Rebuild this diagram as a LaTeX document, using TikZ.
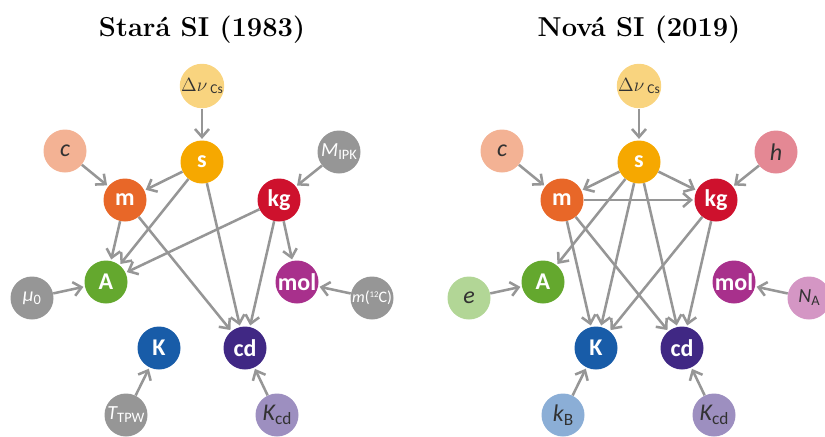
\documentclass[tikz,border=0pt]{standalone}
\usepackage{fontspec}
\usepackage{graphicx}
\setsansfont{Carlito}
\usetikzlibrary{arrows.meta}
\definecolor{cDnu}{RGB}{249,212,127}
\definecolor{cS}{RGB}{246,168,0}
\definecolor{cC}{RGB}{243,178,148}
\definecolor{cM}{RGB}{232,103,40}
\definecolor{cKg}{RGB}{206,17,45}
\definecolor{cGray}{RGB}{150,150,150}
\definecolor{cA}{RGB}{100,168,46}
\definecolor{cMol}{RGB}{168,48,140}
\definecolor{cK}{RGB}{24,92,168}
\definecolor{cCd}{RGB}{64,40,132}
\definecolor{cKcd}{RGB}{157,143,192}
\definecolor{cH}{RGB}{228,136,148}
\definecolor{cE}{RGB}{178,214,150}
\definecolor{cNA}{RGB}{212,150,196}
\definecolor{cKB}{RGB}{139,174,214}
\definecolor{cTxt}{RGB}{50,50,50}
\definecolor{cArr}{RGB}{150,150,150}
\newcommand{\lbsub}[1]{\raisebox{-0.3ex}{\scalebox{0.72}{#1}}}
\begin{document}
\begin{tikzpicture}[x=0.75pt,y=-0.75pt,
  ball/.style={circle, minimum size=32.25pt, inner sep=0pt, draw=none},
  unitn/.style={ball, text=white, font=\sffamily\bfseries\fontsize{18}{18}\selectfont},
  constn/.style={ball, text=cTxt, font=\sffamily\itshape\fontsize{18}{18}\selectfont},
  grayn/.style={ball, fill=cGray, text=white, font=\sffamily\itshape\fontsize{15}{15}\selectfont},
  title/.style={anchor=base, font=\bfseries\fontsize{20.5}{23}\selectfont},
  arr/.style={draw=cArr, line width=1.9pt, -{Straight Barb[length=6pt,width=10.5pt]}, shorten >=1pt}
]
\useasboundingbox (0,0) rectangle (825,436);

% ---------- Left: old SI ----------
\node[title] (Lt) at (202,36) {Stará SI (1983)};
\node[ball, fill=cDnu, text=cTxt, font=\sffamily\fontsize{14}{14}\selectfont] (Ldnu) at (202,86) {$\Delta\nu$\,\lbsub{\upshape Cs}};
\node[unitn, fill=cS] (Ls) at (202,162) {s};
\node[constn, fill=cC] (Lc) at (65,151) {c};
\node[grayn] (Lmipk) at (339,152) {M\lbsub{\upshape IPK}};
\node[unitn, fill=cM] (Lm) at (125,200) {m};
\node[unitn, fill=cKg] (Lkg) at (279,200) {kg};
\node[unitn, fill=cA] (LA) at (106,282) {A};
\node[unitn, fill=cMol] (Lmol) at (297,282) {mol};
\node[grayn] (Lmu) at (32,298) {μ\lbsub{\upshape 0}};
\node[grayn, font=\sffamily\fontsize{12}{12}\selectfont] (Lmc) at (372,298) {\textit{m}(\raisebox{0.7ex}{\scalebox{0.55}{12}}C)};
\node[unitn, fill=cK] (LK) at (159,348) {K};
\node[unitn, fill=cCd] (Lcd) at (245,348) {cd};
\node[grayn] (LT) at (126,415) {T\lbsub{\upshape TPW}};
\node[constn, fill=cKcd] (LKcd) at (277,415) {K\lbsub{\upshape cd}};

\draw[arr] (Ldnu) -- (Ls);
\draw[arr] (Lc) -- (Lm);
\draw[arr] (Lmipk) -- (Lkg);
\draw[arr] (Ls) -- (Lm);
\draw[arr] (Ls) -- (LA);
\draw[arr] (Ls) -- (Lcd);
\draw[arr] (Lm) -- (LA);
\draw[arr] (Lm) -- (Lcd);
\draw[arr] (Lkg) -- (LA);
\draw[arr] (Lkg) -- (Lcd);
\draw[arr] (Lkg) -- (Lmol);
\draw[arr] (Lmu) -- (LA);
\draw[arr] (Lmc) -- (Lmol);
\draw[arr] (LT) -- (LK);
\draw[arr] (LKcd) -- (Lcd);

% ---------- Right: new SI ----------
\node[title] (Rt) at (639,36) {Nová SI (2019)};
\node[ball, fill=cDnu, text=cTxt, font=\sffamily\fontsize{14}{14}\selectfont] (Rdnu) at (639,86) {$\Delta\nu$\,\lbsub{\upshape Cs}};
\node[unitn, fill=cS] (Rs) at (639,162) {s};
\node[constn, fill=cC] (Rc) at (502,151) {c};
\node[constn, fill=cH] (Rh) at (776,152) {h};
\node[unitn, fill=cM] (Rm) at (562,200) {m};
\node[unitn, fill=cKg] (Rkg) at (716,200) {kg};
\node[unitn, fill=cA] (RA) at (543,282) {A};
\node[unitn, fill=cMol] (Rmol) at (734,282) {mol};
\node[constn, fill=cE] (Re) at (469,298) {e};
\node[constn, fill=cNA, font=\sffamily\itshape\fontsize{15}{15}\selectfont] (RNA) at (809,298) {N\lbsub{\upshape A}};
\node[unitn, fill=cK] (RK) at (596,348) {K};
\node[unitn, fill=cCd] (Rcd) at (682,348) {cd};
\node[constn, fill=cKB] (RkB) at (563,415) {k\lbsub{\upshape B}};
\node[constn, fill=cKcd] (RKcd) at (714,415) {K\lbsub{\upshape cd}};

\draw[arr] (Rdnu) -- (Rs);
\draw[arr] (Rc) -- (Rm);
\draw[arr] (Rh) -- (Rkg);
\draw[arr] (Rs) -- (Rm);
\draw[arr] (Rs) -- (Rkg);
\draw[arr] (Rm) -- (Rkg);
\draw[arr] (Rs) -- (RA);
\draw[arr] (Rs) -- (RK);
\draw[arr] (Rs) -- (Rcd);
\draw[arr] (Rm) -- (RK);
\draw[arr] (Rm) -- (Rcd);
\draw[arr] (Rkg) -- (RK);
\draw[arr] (Rkg) -- (Rcd);
\draw[arr] (Re) -- (RA);
\draw[arr] (RNA) -- (Rmol);
\draw[arr] (RkB) -- (RK);
\draw[arr] (RKcd) -- (Rcd);
\end{tikzpicture}
\end{document}
